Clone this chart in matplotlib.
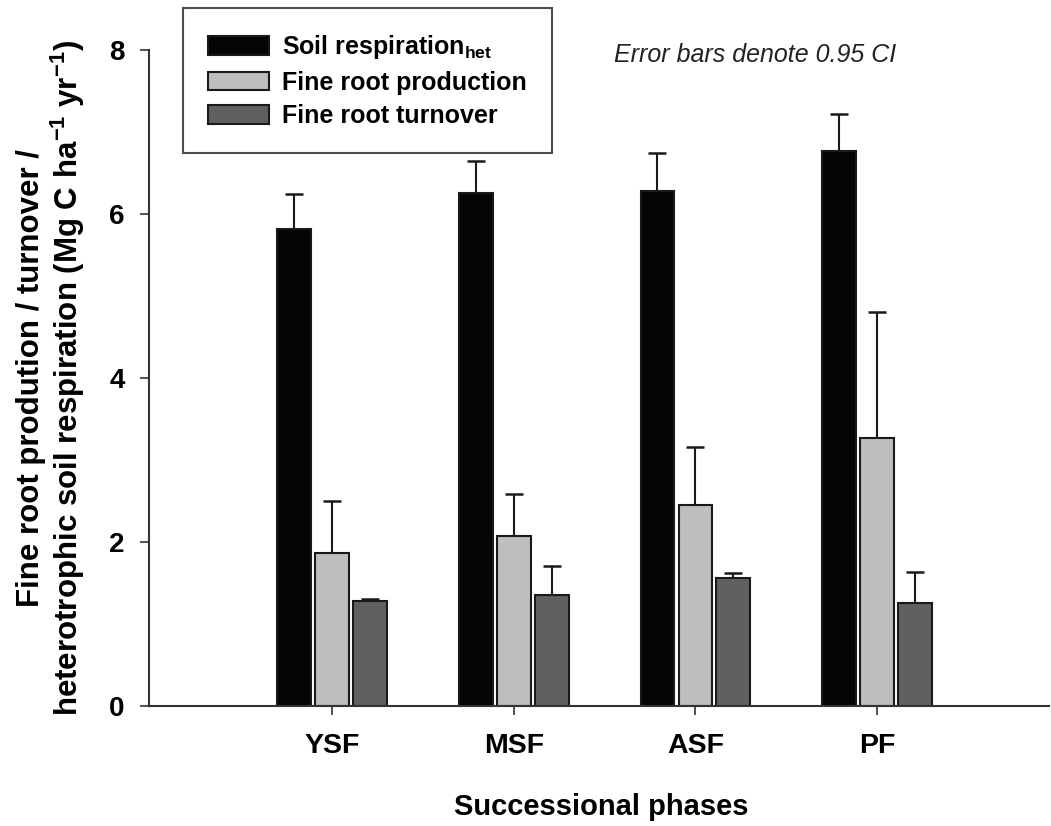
import matplotlib
matplotlib.use("Agg")
import matplotlib.pyplot as plt
import numpy as np

plt.rcParams['font.family'] = ['Liberation Sans', 'DejaVu Sans']
plt.rcParams['mathtext.fontset'] = 'custom'
plt.rcParams['mathtext.rm'] = 'Liberation Sans'
plt.rcParams['mathtext.bf'] = 'Liberation Sans:bold'
plt.rcParams['mathtext.it'] = 'Liberation Sans:italic'

categories = ["YSF", "MSF", "ASF", "PF"]
soil_resp = [5.82, 6.26, 6.28, 6.77]
soil_resp_ci = [6.24, 6.64, 6.74, 7.22]
production = [1.87, 2.07, 2.45, 3.27]
production_ci = [2.50, 2.59, 3.16, 4.81]
turnover = [1.28, 1.35, 1.56, 1.26]
turnover_ci = [1.30, 1.71, 1.62, 1.64]
yticks = [0, 2, 4, 6, 8]

fig = plt.figure(figsize=(10.51, 8.26), dpi=100)
ax = fig.add_axes([0.1418, 0.1453, 0.8563, 0.7942])

x = np.arange(len(categories))
w = 0.186
off = 0.209
series = [
    (soil_resp, soil_resp_ci, "#050505", "Soil respiration$_{\\mathbf{het}}$"),
    (production, production_ci, "#bebebe", "Fine root production"),
    (turnover, turnover_ci, "#5f615f", "Fine root turnover"),
]
for i, (vals, ci, col, lab) in enumerate(series):
    vals = np.array(vals)
    up = np.array(ci) - vals
    xpos = x + (i - 1) * off
    ax.bar(xpos, vals, width=w, color=col, edgecolor="#1a1a1a", linewidth=1.5,
           label=lab, zorder=2)
    ax.errorbar(xpos, vals, yerr=[np.zeros_like(up), up], fmt="none",
                ecolor="#1a1a1a", elinewidth=1.5, capsize=6.5, capthick=1.8, zorder=1)

ax.set_xlim(-1.007, 3.946)
ax.set_ylim(0, 8)
ax.set_yticks(yticks)
ax.set_yticklabels([str(t) for t in yticks], fontsize=20, fontweight="bold")
ax.set_xticks(x)
ax.set_xticklabels(categories, fontsize=20.5, fontweight="bold")
ax.tick_params(axis="both", direction="out", length=6.5, width=1.2, color="#333333")
ax.tick_params(axis="x", pad=13)
ax.tick_params(axis="y", pad=11)
for s in ["top", "right"]:
    ax.spines[s].set_visible(False)
for s in ["left", "bottom"]:
    ax.spines[s].set_linewidth(1.5)
    ax.spines[s].set_color("#333333")

ax.set_xlabel("Successional phases", fontsize=21, fontweight="bold")
ax.xaxis.set_label_coords(0.502, -0.132)
ax.set_ylabel("Fine root prodution / turnover /\nheterotrophic soil respiration (Mg C ha$^{\\mathbf{-1}}$ yr$^{\\mathbf{-1}}$)",
              fontsize=22.5, fontweight="bold", linespacing=1.1)
ax.yaxis.set_label_coords(-0.069, 0.5)

fig.text(0.7185, 0.933, "Error bars denote 0.95 CI", fontsize=18, style="italic",
         ha="center", va="center", color="#222222")

leg = ax.legend(loc="upper left", bbox_to_anchor=(0.174, 0.990), bbox_transform=fig.transFigure,
                prop={"weight": "bold", "size": 18}, frameon=True, fancybox=False,
                edgecolor="#222222", handlelength=2.44, handleheight=0.76, labelspacing=0.38,
                borderpad=1.0, handletextpad=0.52, borderaxespad=0)
leg.get_frame().set_linewidth(1.5)

fig.savefig("out.png", dpi=100)
